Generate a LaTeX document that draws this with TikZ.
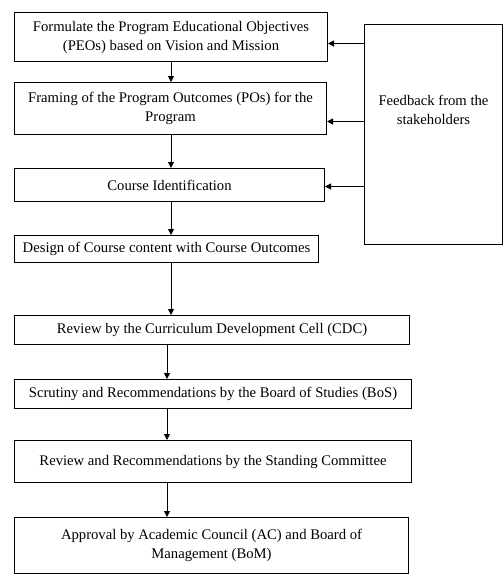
\documentclass[tikz,border=0pt]{standalone}
\usepackage{fontspec}
\setmainfont{Liberation Serif}
\usetikzlibrary{arrows.meta, calc}
\def\PEO{Formulate the Program Educational Objectives\\(PEOs) based on Vision and Mission}
\def\PO{Framing of the Program Outcomes (POs) for the\\Program}
\def\Course{Course Identification}
\def\Design{Design of Course content with Course Outcomes}
\def\CDC{Review by the Curriculum Development Cell (CDC)}
\def\BoS{Scrutiny and Recommendations by the Board of Studies (BoS)}
\def\Committee{Review and Recommendations by the Standing Committee}
\def\Approval{Approval by Academic Council (AC) and Board of\\Management (BoM)}
\def\Feedback{Feedback from the\\stakeholders}
\begin{document}
\begin{tikzpicture}[x=0.75pt, y=-0.75pt,
    font=\fontsize{11}{14.25}\selectfont,
    stage/.style 2 args={draw, line width=0.75pt, anchor=north west, align=center,
        inner sep=0pt, minimum width=#1*0.75pt, minimum height=#2*0.75pt},
    flow/.style={line width=0.75pt, -{Triangle[length=4.5pt, width=4.5pt]}}]
    \useasboundingbox (0,0) rectangle (503,576);

    \node[stage={313}{49}] (peo) at (14,12) {\PEO};
    \node[stage={312}{52}] (po) at (14,82) {\PO};
    \node[stage={310}{33}] (course) at (14,168) {\Course};
    \node[stage={304}{27}] (design) at (14,235) {\Design};
    \node[stage={395}{29}] (cdc) at (14,315) {\CDC};
    \node[stage={397}{29}] (bos) at (14,379) {\BoS};
    \node[stage={397}{42}] (committee) at (14,440) {\Committee};
    \node[stage={394}{56}] (approval) at (14,517) {\Approval};
    \node[stage={138}{220}, label={[anchor=north, align=center, inner sep=0pt,
        yshift=-53pt]north:\Feedback}] (feedback) at (364,24) {};

    % main flow, down the page
    \coordinate (upper) at (171,0);
    \coordinate (lower) at (167,0);
    \foreach \a/\b/\s in {peo/po/upper, po/course/upper, course/design/upper,
        design/cdc/upper, cdc/bos/lower, bos/committee/lower, committee/approval/lower}
        \draw[flow] (\a.south -| \s) -- (\b.north -| \s);

    % feedback into the first three steps
    \foreach \b/\d in {peo/6.5, po/13, course/1.5} {
        \coordinate (fb-\b) at ($(\b.east)+(0,\d)$);
        \draw[flow] (feedback.west |- fb-\b) -- (fb-\b);
    }
\end{tikzpicture}
\end{document}
